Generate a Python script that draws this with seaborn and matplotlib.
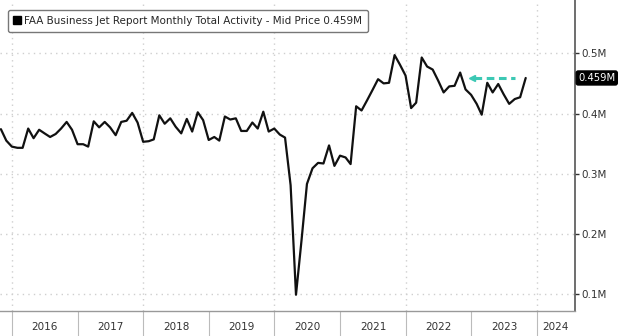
import matplotlib
matplotlib.use("Agg")
import matplotlib.pyplot as plt
import matplotlib.transforms as mtransforms
from matplotlib.lines import Line2D
import seaborn as sns
import pandas as pd

# ---- data ----
dates = pd.date_range("2015-10-31", "2023-10-31", freq="ME")
activity_m = [
    0.374, 0.355, 0.345, 0.343, 0.343, 0.375, 0.359, 0.373, 0.367, 0.361,
    0.366, 0.375, 0.386, 0.373, 0.349, 0.349, 0.345, 0.387, 0.377, 0.386,
    0.377, 0.364, 0.386, 0.388, 0.401, 0.385, 0.353, 0.354, 0.357, 0.397,
    0.383, 0.392, 0.378, 0.367, 0.391, 0.370, 0.402, 0.389, 0.356, 0.361,
    0.355, 0.395, 0.390, 0.392, 0.371, 0.371, 0.385, 0.375, 0.403, 0.370,
    0.375, 0.365, 0.360,
    0.281, 0.099, 0.190, 0.283, 0.309, 0.318, 0.317, 0.347, 0.313, 0.330,
    0.327, 0.316, 0.412, 0.405, 0.422, 0.439, 0.457, 0.450, 0.451, 0.497,
    0.481, 0.463, 0.409, 0.418, 0.493, 0.478, 0.473, 0.455, 0.435, 0.445,
    0.446, 0.468, 0.440, 0.431, 0.416, 0.398, 0.451, 0.435, 0.449, 0.432,
    0.416, 0.424, 0.427, 0.459,
]
years = [2016, 2017, 2018, 2019, 2020, 2021, 2022, 2023, 2024]
ytick_vals = [0.1, 0.2, 0.3, 0.4, 0.5]
ytick_labels = ["0.1M", "0.2M", "0.3M", "0.4M", "0.5M"]
legend_label = "FAA Business Jet Report Monthly Total Activity - Mid Price 0.459M"
last_value = 0.459
last_label = "0.459M"

df = pd.DataFrame({"date": dates, "value": activity_m})

sns.set_theme(style="white")
plt.rcParams["font.family"] = ["DejaVu Sans"]

fig = plt.figure(figsize=(6.2, 3.36), dpi=100)
ax = fig.add_axes([0.0, 0.0744, 0.927, 0.9256])

sns.lineplot(data=df, x="date", y="value", ax=ax, color="#111111", linewidth=1.6)

xmin = pd.Timestamp("2015-10-26")
xmax = pd.Timestamp("2024-07-30")
ax.set_xlim(xmin, xmax)
ax.set_ylim(0.072, 0.5885)

grid_col = "#cfcfcf"
for v in ytick_vals:
    ax.axhline(v, color=grid_col, linestyle=(0, (1, 3)), linewidth=1.0, zorder=0)
for yr in [2016, 2018, 2020, 2022, 2024]:
    ax.axvline(pd.Timestamp(f"{yr}-01-01"), color=grid_col, linestyle=(0, (1, 3)), linewidth=1.0, zorder=0)

# y axis on right
ax.yaxis.tick_right()
ax.set_yticks(ytick_vals)
ax.set_yticklabels(ytick_labels)
ax.tick_params(axis="y", which="major", direction="out", length=3, width=1, color="#333333",
               labelsize=7.5, labelcolor="#333333", pad=2, right=True, left=False)

# x axis: separators as minor ticks, labels centered as major ticks
bounds = [pd.Timestamp(f"{y}-01-01") for y in years]
ax.set_xticks(bounds, minor=True)
centers = []
for y in years:
    a = pd.Timestamp(f"{y}-01-01")
    b = min(pd.Timestamp(f"{y + 1}-01-01"), xmax)
    centers.append(a + (b - a) / 2)
ax.set_xticks(centers)
ax.set_xticklabels([str(y) for y in years])
ax.tick_params(axis="x", which="major", length=0, labelsize=7.5, labelcolor="#333333", pad=8)
ax.tick_params(axis="x", which="minor", length=18, width=0.8, color="#bbbbbb", direction="out", bottom=True)
ax.set_xlabel("")
ax.set_ylabel("")

for s in ["top", "left"]:
    ax.spines[s].set_visible(False)
ax.spines["right"].set_color("#555555")
ax.spines["right"].set_linewidth(1.2)
ax.spines["bottom"].set_color("#999999")
ax.spines["bottom"].set_linewidth(1.0)

# teal dashed arrow
teal = "#3cc8b4"
ax.plot([pd.Timestamp("2023-01-15"), pd.Timestamp("2023-09-01")], [last_value, last_value],
        color=teal, linestyle=(0, (2.5, 1.5)), linewidth=2.2, zorder=3)
ax.plot([pd.Timestamp("2023-01-05")], [last_value], marker="<", color=teal, markersize=4, zorder=3)

# last value label
trans = mtransforms.blended_transform_factory(ax.transAxes, ax.transData)
ax.text(1.006, last_value, last_label, transform=trans, ha="left", va="center",
        fontsize=7.2, color="white",
        bbox=dict(boxstyle="round,pad=0.2", facecolor="black", edgecolor="black"))

# legend
handle = Line2D([], [], marker="s", color="black", linestyle="none", markersize=6)
leg = ax.legend([handle], [legend_label], loc="upper left", bbox_to_anchor=(0.004, 0.985),
                fontsize=7.5, frameon=True, fancybox=True, handlelength=0.6, handletextpad=0.4,
                borderpad=0.6, framealpha=1.0, edgecolor="#777777")
leg.get_frame().set_linewidth(1.0)

fig.savefig("out.png", dpi=100)
